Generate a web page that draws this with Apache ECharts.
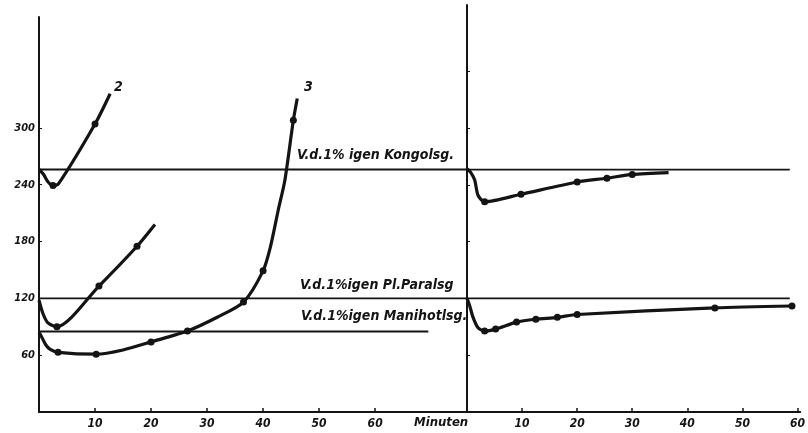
<!DOCTYPE html>
<html>
<head>
<meta charset="utf-8">
<script src="https://cdn.jsdelivr.net/npm/echarts@6/dist/echarts.min.js"></script>
<style>
  html, body { margin: 0; padding: 0; background: #fff; }
  #chart { width: 808px; height: 433px; }
</style>
</head>
<body>
<div id="chart"></div>
<script>
// left panel (minutes 0..76)
const curve2T = [0, 0.8, 1.6, 2.5, 3.5, 10, 12.7]
const curve2V = [256, 251, 243, 239, 241, 304, 336]
const curve2Dots = [3, 5]

const paralLeftT = [0, 0.7, 1.6, 3.2, 10.7, 17.5, 20.7]
const paralLeftV = [118, 104, 94, 90, 133, 175, 198]
const paralLeftDots = [3, 4, 5]

const curve3T = [0, 0.5, 1.2, 2, 3.4, 10.2, 15, 20, 26.5, 31.8, 36.5, 40, 41.3, 42.7, 43.9, 45.4, 46.1]
const curve3V = [84, 79, 71, 66, 63, 61, 65.5, 74, 85.5, 100, 116, 149, 174, 213, 245, 308, 331]
const curve3Dots = [4, 5, 7, 8, 10, 11, 15]

// right panel (minutes 0..60)
const kongoRightT = [0, 0.7, 1.4, 2, 3.2, 9.8, 20, 25.4, 30, 36.6]
const kongoRightV = [257, 253, 245, 229, 222, 230, 243, 247, 251, 253]
const kongoRightDots = [4, 5, 6, 7, 8]

const manihotRightT = [0, 0.5, 1.1, 2, 3.2, 5.2, 9, 12.5, 16.4, 20, 45, 59]
const manihotRightV = [120, 112, 100, 89, 85.5, 87.6, 95, 98, 100, 103, 110, 112]
const manihotRightDots = [4, 5, 6, 7, 8, 9, 10, 11]

// reference levels
const kongoLevel = 256
const paralLevel = 120
const manihotLevel = 85

const xTicks = [10, 20, 30, 40, 50, 60]
const yTicks = [60, 120, 180, 240, 300]
const yTicksRight = [60, 120, 180, 240, 300, 360]

const ink = '#141414'
const font = "'Liberation Sans Narrow', 'DejaVu Sans Condensed', 'Liberation Sans', sans-serif"

function pts(ts, vs, dots) {
  return ts.map((t, i) => ({
    value: [t, vs[i]],
    symbol: dots.includes(i) ? 'circle' : 'none'
  }))
}

function curve(ts, vs, dots, idx) {
  return {
    type: 'line',
    xAxisIndex: idx,
    yAxisIndex: idx,
    data: pts(ts, vs, dots),
    smooth: 0.25,
    showAllSymbol: true,
    symbolSize: 7,
    lineStyle: { color: ink, width: 3.2 },
    itemStyle: { color: ink },
    silent: true,
    z: 5
  }
}

function level(v, from, to, idx) {
  return {
    type: 'line',
    xAxisIndex: idx,
    yAxisIndex: idx,
    data: [[from, v], [to, v]],
    symbol: 'none',
    lineStyle: { color: ink, width: 1.8 },
    silent: true,
    z: 3
  }
}

function xAxis(idx, max) {
  return {
    type: 'value',
    gridIndex: idx,
    min: 0,
    max: max,
    interval: 10,
    axisLine: { show: true, onZero: false, lineStyle: { color: ink, width: 2 } },
    axisTick: { show: true, inside: true, length: 4, customValues: xTicks, lineStyle: { color: ink, width: 1.5 } },
    axisLabel: {
      customValues: xTicks,
      color: ink, fontFamily: font, fontStyle: 'italic', fontWeight: 'bold', fontSize: 12, margin: 6
    },
    splitLine: { show: false }
  }
}

function yAxis(idx, max, ticks, labels) {
  return {
    type: 'value',
    gridIndex: idx,
    min: 0,
    max: max,
    interval: 60,
    axisLine: { show: true, onZero: false, lineStyle: { color: ink, width: 2 } },
    axisTick: { show: true, inside: true, length: 3, customValues: ticks, lineStyle: { color: ink } },
    axisLabel: {
      show: labels,
      customValues: ticks,
      color: ink, fontFamily: font, fontStyle: 'italic', fontWeight: 'bold', fontSize: 11, margin: 4
    },
    splitLine: { show: false }
  }
}

function label(text, x, y, size) {
  return {
    type: 'text',
    left: x,
    top: y,
    silent: true,
    style: {
      text: text,
      fill: ink,
      font: 'italic bold ' + size + 'px ' + font
    }
  }
}

const chart = echarts.init(document.getElementById('chart'))
chart.setOption({
  backgroundColor: '#fff',
  animation: false,
  grid: [
    { left: 39, top: 17, width: 428, height: 395 },
    { left: 467, top: 5, width: 339, height: 407 }
  ],
  xAxis: [xAxis(0, 76.4), xAxis(1, 60.5)],
  yAxis: [yAxis(0, 417, yTicks, true), yAxis(1, 430, yTicksRight, false)],
  series: [
    level(kongoLevel, 0, 76.4, 0),
    level(kongoLevel, 0, 58.6, 1),
    level(paralLevel, 0, 76.4, 0),
    level(paralLevel, 0, 58.6, 1),
    level(manihotLevel, 0, 69.5, 0),
    curve(curve2T, curve2V, curve2Dots, 0),
    curve(paralLeftT, paralLeftV, paralLeftDots, 0),
    curve(curve3T, curve3V, curve3Dots, 0),
    curve(kongoRightT, kongoRightV, kongoRightDots, 1),
    curve(manihotRightT, manihotRightV, manihotRightDots, 1)
  ],
  graphic: [
    label('2', 114, 80, 14),
    label('3', 304, 80, 14),
    label('V.d.1% igen Kongolsg.', 297, 148, 14),
    label('V.d.1%igen Pl.Paralsg', 300, 278, 14),
    label('V.d.1%igen Manihotlsg.', 301, 309, 14),
    label('Minuten', 414, 416, 13)
  ]
})
</script>
</body>
</html>
